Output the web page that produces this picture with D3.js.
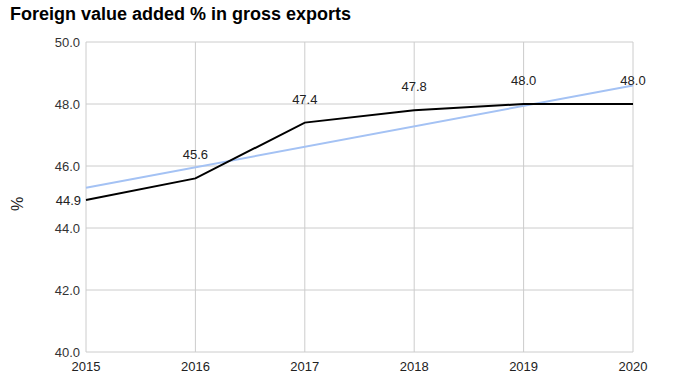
<!DOCTYPE html>
<html>
<head>
<meta charset="utf-8">
<script src="https://cdn.jsdelivr.net/npm/d3@7"></script>
<style>
  body { margin: 0; background: #fff; }
  svg { display: block; font-family: "Liberation Sans", Arial, sans-serif; }
</style>
</head>
<body>
<div id="chart"></div>
<script>
// chart data
const years = [2015, 2016, 2017, 2018, 2019, 2020];
const values = [44.9, 45.6, 47.4, 47.8, 48.0, 48.0];
const yTicks = [40, 42, 44, 46, 48, 50];

const width = 691, height = 375;
const margin = { top: 42, right: 58, bottom: 23, left: 86 };

const svg = d3.select('#chart').append('svg')
  .attr('width', width)
  .attr('height', height);

const x = d3.scaleLinear()
  .domain(d3.extent(years))
  .range([margin.left, width - margin.right]);

const y = d3.scaleLinear()
  .domain([40, 50])
  .range([height - margin.bottom, margin.top]);

// gridlines
svg.append('g')
  .selectAll('line.h')
  .data(yTicks)
  .join('line')
  .attr('x1', margin.left).attr('x2', width - margin.right)
  .attr('y1', d => y(d)).attr('y2', d => y(d))
  .attr('stroke', '#cccccc').attr('stroke-width', 1);

svg.append('g')
  .selectAll('line.v')
  .data(years)
  .join('line')
  .attr('x1', d => x(d)).attr('x2', d => x(d))
  .attr('y1', margin.top).attr('y2', height - margin.bottom)
  .attr('stroke', '#cccccc').attr('stroke-width', 1);

// tick labels
svg.append('g')
  .selectAll('text')
  .data(yTicks)
  .join('text')
  .attr('x', margin.left - 6)
  .attr('y', d => y(d))
  .attr('dy', '0.35em')
  .attr('text-anchor', 'end')
  .attr('font-size', 13)
  .attr('fill', '#333')
  .text(d => d3.format('.1f')(d));

svg.append('g')
  .selectAll('text')
  .data(years)
  .join('text')
  .attr('x', d => x(d))
  .attr('y', height - 4)
  .attr('text-anchor', 'middle')
  .attr('font-size', 13)
  .attr('fill', '#222')
  .text(d => d);

// axis title
svg.append('text')
  .attr('transform', `translate(23, 204) rotate(-90)`)
  .attr('text-anchor', 'middle')
  .attr('font-size', 16)
  .attr('fill', '#222')
  .text('%');

// chart title
svg.append('text')
  .attr('x', 10)
  .attr('y', 20)
  .attr('font-size', 18)
  .attr('font-weight', 'bold')
  .attr('fill', '#000')
  .text('Foreign value added % in gross exports');

// linear trendline (least squares fit of the series)
const mx = d3.mean(years), my = d3.mean(values);
const slope = d3.sum(years, (d, i) => (d - mx) * (values[i] - my)) /
  d3.sum(years, d => (d - mx) * (d - mx));
const trend = d3.extent(years).map(d => [d, my + slope * (d - mx)]);

svg.append('path')
  .datum(trend)
  .attr('d', d3.line().x(d => x(d[0])).y(d => y(d[1])))
  .attr('fill', 'none')
  .attr('stroke', '#a4c2f4')
  .attr('stroke-width', 2);

// main series
svg.append('path')
  .datum(years.map((d, i) => [d, values[i]]))
  .attr('d', d3.line().x(d => x(d[0])).y(d => y(d[1])))
  .attr('fill', 'none')
  .attr('stroke', '#000')
  .attr('stroke-width', 2);

// data labels
svg.append('g')
  .selectAll('text')
  .data(years.map((d, i) => [d, values[i]]))
  .join('text')
  .attr('x', (d, i) => i === 0 ? x(d[0]) - 5 : x(d[0]))
  .attr('y', (d, i) => i === 0 ? y(d[1]) : y(d[1]) - 19)
  .attr('dy', (d, i) => i === 0 ? '0.35em' : 0)
  .attr('text-anchor', (d, i) => i === 0 ? 'end' : 'middle')
  .attr('font-size', 13)
  .attr('fill', '#222')
  .text(d => d3.format('.1f')(d[1]));
</script>
</body>
</html>
